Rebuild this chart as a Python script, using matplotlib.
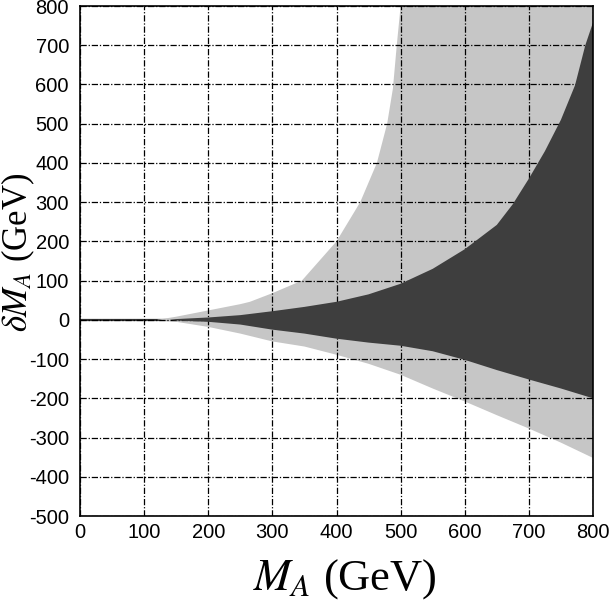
import numpy as np
import matplotlib
matplotlib.use("Agg")
import matplotlib.pyplot as plt

plt.rcParams['font.family'] = ['Liberation Sans', 'DejaVu Sans']
plt.rcParams['mathtext.fontset'] = 'stix'
plt.rcParams['axes.unicode_minus'] = False

# light band (outer region)
light_up_x = [120, 150, 200, 250, 265, 300, 346, 400, 437, 463, 479, 488, 494, 500, 800]
light_up_y = [0, 8, 24, 40, 46, 68, 100, 200, 300, 400, 500, 590, 700, 800, 800]
light_lo_x = [120, 150, 200, 250, 300, 350, 400, 450, 500, 550, 600, 650, 700, 750, 800]
light_lo_y = [0, -5, -18, -35, -55, -68, -89, -112, -140, -175, -208, -243, -277, -313, -352]

# dark band (inner region)
dark_up_x = [140, 150, 200, 250, 300, 350, 400, 450, 500, 550, 600, 650, 675, 700, 725, 750, 772, 788, 800]
dark_up_y = [0, 2, 6, 12, 22, 33, 46, 65, 92, 130, 180, 242, 295, 360, 430, 510, 598, 700, 758]
dark_lo_x = [140, 150, 200, 250, 300, 350, 400, 450, 500, 550, 600, 650, 700, 750, 800]
dark_lo_y = [0, -2, -5, -12, -25, -35, -48, -58, -66, -80, -102, -128, -152, -175, -200]

xticks = [0, 100, 200, 300, 400, 500, 600, 700, 800]
yticks = [-500, -400, -300, -200, -100, 0, 100, 200, 300, 400, 500, 600, 700, 800]

fig = plt.figure(figsize=(6.1, 6.01), dpi=100)
ax = fig.add_axes([80/610, 85/601, 513/610, 510/601])

ax.axhline(0, color='#333333', lw=1.6, zorder=1)

ax.fill(np.concatenate([light_up_x, light_lo_x[::-1]]),
        np.concatenate([light_up_y, light_lo_y[::-1]]),
        color='#c6c6c6', lw=0, zorder=2)
ax.fill(np.concatenate([dark_up_x, dark_lo_x[::-1]]),
        np.concatenate([dark_up_y, dark_lo_y[::-1]]),
        color='#3e3e3e', lw=0, zorder=3)

ax.set_xlim(0, 800)
ax.set_ylim(-500, 800)
ax.set_xticks(xticks)
ax.set_yticks(yticks)
ax.grid(True, color='black', lw=0.9, linestyle=(0, (5, 1.5, 1, 1.5)), zorder=4)
ax.set_axisbelow(False)
ax.tick_params(direction='in', length=0, labelsize=14.5)
ax.tick_params(axis='y', pad=8)
ax.tick_params(axis='x', pad=5)
for s in ax.spines.values():
    s.set_linewidth(1.2)
    s.set_zorder(5)

ax.set_xlabel(r'$M_A$ (GeV)', fontsize=32, family='Liberation Serif')
ax.set_ylabel(r'$\delta M_A$ (GeV)', fontsize=25, family='Liberation Serif')
ax.xaxis.set_label_coords(0.517, -0.08)
ax.yaxis.set_label_coords(-0.084, 0.517)

fig.savefig('out.png', dpi=100)
